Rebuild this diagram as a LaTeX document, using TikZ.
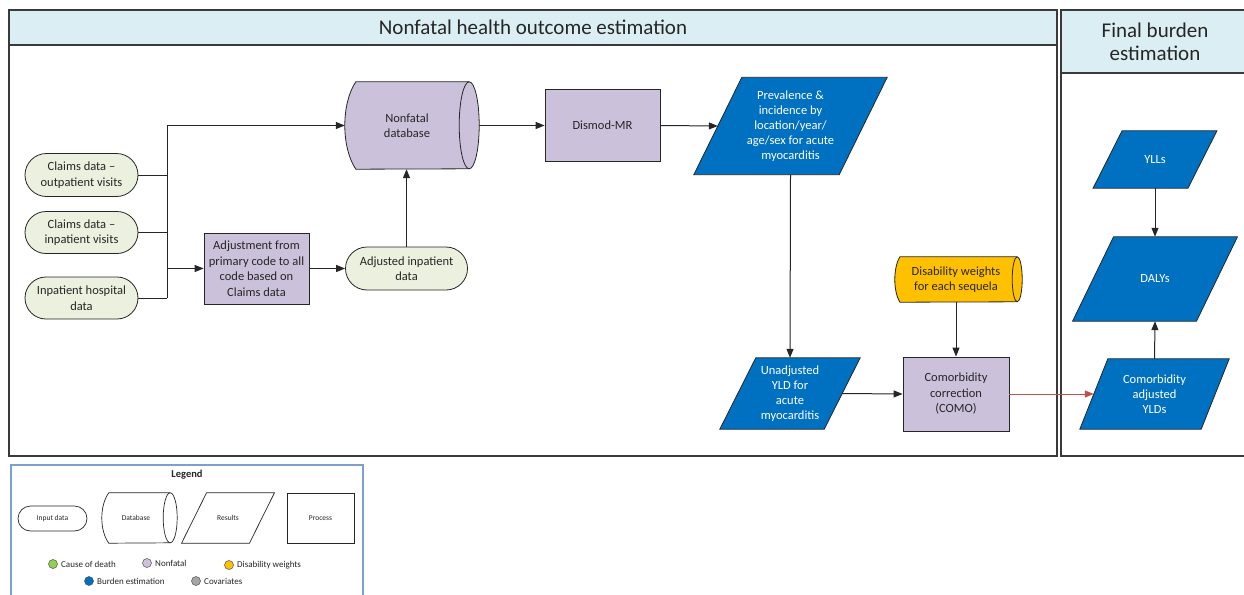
\documentclass[tikz,border=0pt]{standalone}
\usepackage{fontspec}
\setmainfont{Carlito}
\usetikzlibrary{shapes.misc,arrows.meta,backgrounds,calc}
\definecolor{hdr}{HTML}{DAEEF3}
\definecolor{grn}{HTML}{EBF1DE}
\definecolor{lav}{HTML}{CCC1DA}
\definecolor{blu}{HTML}{0070C0}
\definecolor{org}{HTML}{FFC000}
\definecolor{redc}{HTML}{C0504D}
\definecolor{linec}{HTML}{262626}
\definecolor{panelc}{HTML}{3A3A3A}
\definecolor{legb}{HTML}{7F9FCB}
\definecolor{dgreen}{HTML}{92D050}
\definecolor{dgray}{HTML}{A6A6A6}
\newcommand\drawpara[3]{%
  \begin{scope}[on background layer]
  \path[#3] ([xshift=#2]#1.north west) -- ([xshift=#2]#1.north east) -- ([xshift=-#2]#1.south east) -- ([xshift=-#2]#1.south west) -- cycle;
  \end{scope}}
\newcommand\drawcyl[5]{%
  \begin{scope}[on background layer]
  \path[#5] ([xshift=#2]#1.north west) -- (#1.north east) arc[start angle=90,end angle=-90,x radius=#3,y radius=#4] -- ([xshift=#2]#1.south west) .. controls ([xshift=-#2/3,yshift=-#4/2]#1.west) and ([xshift=-#2/3,yshift=#4/2]#1.west) .. ([xshift=#2]#1.north west) -- cycle;
  \path[#5,fill=none] (#1.north east) arc[start angle=90,end angle=270,x radius=#3,y radius=#4];
  \end{scope}}
\begin{document}
\begin{tikzpicture}[x=1pt,y=-1pt,
  txt/.style={font=\fontsize{12.5}{15.5}\selectfont, text=linec, align=center, inner sep=0pt},
  inp/.style={txt, rounded rectangle, draw=linec, line width=0.8pt, fill=grn},
  proc/.style={txt, rectangle, draw=linec, line width=0.8pt, fill=lav},
  para/.style={txt, text=white, font=\fontsize{12.5}{15}\selectfont},
  cylbox/.style={txt},
  shp/.style={draw=linec, line width=0.8pt},
  conn/.style={draw=linec, line width=1pt, -{Triangle[length=9pt,width=7pt]}},
  bus/.style={draw=linec, line width=1pt},
  panel/.style={draw=panelc, line width=1.3pt},
  leg/.style={font=\fontsize{7.5}{9}\selectfont, text=linec, inner sep=0pt},
  legd/.style={font=\fontsize{9}{11}\selectfont, text=linec, inner sep=0pt, anchor=west},
  dot/.style={circle, draw=linec!80, line width=0.5pt, minimum size=9pt, inner sep=0pt}
]
\useasboundingbox (0,0) rectangle (1244,594);
\begin{scope}[on background layer]
  \fill[white] (0,0) rectangle (1244,594);
\end{scope}

% panels
\draw[panel, fill=hdr] (9,10) rectangle (1057,45);
\draw[panel] (9,45) rectangle (1057,456);
\draw[panel, fill=hdr] (1061,10) rectangle (1250,73);
\draw[panel] (1061,73) rectangle (1250,456);
\node[txt, font=\fontsize{21}{23}\selectfont] (t1) at (533,27.5) {Nonfatal health outcome estimation};
\node[txt, font=\fontsize{21}{23}\selectfont] (t2) at (1155,41.5) {Final burden\\estimation};

% input nodes
\node[inp, minimum width=113pt, minimum height=43pt] (out) at (81.5,175) {Claims data –\\outpatient visits};
\node[inp, minimum width=113pt, minimum height=42pt] (inpv) at (81.5,232.5) {Claims data –\\inpatient visits};
\node[inp, minimum width=113pt, minimum height=42pt] (hosp) at (81.5,298) {Inpatient hospital\\data};
\node[proc, minimum width=105pt, minimum height=71pt] (adj) at (256.5,268.5) {Adjustment from\\primary code to all\\code based on\\Claims data};
\node[inp, minimum width=122pt, minimum height=43pt] (adjinp) at (406.5,268.5) {Adjusted inpatient\\data};

% database
\node[cylbox, minimum width=124pt, minimum height=87pt] (db) at (407,125.5) {Nonfatal\\database};
\drawcyl{db}{11pt}{10pt}{43.5pt}{shp, fill=lav}

\node[proc, minimum width=115pt, minimum height=72pt] (dismod) at (602.5,125.5) {Dismod-MR};

\node[para, minimum width=145pt, minimum height=97pt] (prev) at (790.5,126) {Prevalence \&\\incidence by\\location/year/\\age/sex for acute\\myocarditis};
\drawpara{prev}{24pt}{shp, fill=blu}

\node[para, minimum width=104pt, minimum height=71pt] (unadj) at (790,393.5) {Unadjusted\\YLD for\\acute\\myocarditis};
\drawpara{unadj}{18pt}{shp, fill=blu}

\node[proc, minimum width=106pt, minimum height=74pt] (como) at (956,394) {Comorbidity\\correction\\(COMO)};

\node[cylbox, minimum width=122pt, minimum height=45pt] (dis) at (956,279.5) {Disability weights\\for each sequela};
\drawcyl{dis}{5pt}{5pt}{22.5pt}{shp, fill=org}

\node[para, minimum width=121pt, minimum height=70pt] (cay) at (1154.5,394) {Comorbidity\\adjusted\\YLDs};
\drawpara{cay}{14pt}{shp, fill=blu}

\node[para, minimum width=123.5pt, minimum height=84pt] (dalys) at (1155,279) {DALYs};
\drawpara{dalys}{20.5pt}{shp, fill=blu}

\node[para, minimum width=94.5pt, minimum height=57pt] (ylls) at (1155,159.5) {YLLs};
\drawpara{ylls}{14.5pt}{shp, fill=blu}

% connectors
\coordinate (busx) at (167,0);
\draw[bus] (out.east) -- (out.east -| busx);
\draw[bus] (inpv.east) -- (inpv.east -| busx);
\draw[bus] (hosp.east) -- (hosp.east -| busx);
\draw[bus] (busx |- db.west) -- (busx |- hosp.east);
\draw[conn] (busx |- db.west) -- (db.west);
\draw[conn] (busx |- adj.west) -- (adj.west);
\draw[conn] (adj.east) -- (adjinp.west);
\draw[conn] (adjinp.north) -- (adjinp.north |- db.south);
\draw[conn] ([xshift=10pt]db.east) -- (dismod.west);
\draw[conn] (dismod.east) -- (prev.west);
\draw[conn] (prev.south) -- (unadj.north);
\draw[conn] (unadj.east) -- (como.west);
\draw[conn] (dis.south) -- (como.north);
\draw[conn, draw=redc, -{Triangle[length=9pt,width=7pt,fill=redc]}] (como.east) -- (cay.west);
\draw[conn] (cay.north) -- (dalys.south);
\draw[conn] (ylls.south) -- (dalys.north);

% legend
\draw[draw=legb, line width=1.5pt] (11,600) -- (11,465) -- (363,465) -- (363,600);
\node[txt, font=\bfseries\fontsize{10.5}{12}\selectfont] (legt) at (187,475) {Legend};
\node[leg, rounded rectangle, draw=linec, line width=0.7pt, minimum width=69pt, minimum height=25pt] (li) at (52.5,518.5) {Input data};
\node[leg, minimum width=68pt, minimum height=50pt] (ldb) at (136,518) {Database};
\drawcyl{ldb}{7pt}{7pt}{25pt}{draw=linec, line width=0.7pt, fill=white}
\node[leg, minimum width=67.5pt, minimum height=50pt] (lres) at (228,518) {Results};
\drawpara{lres}{12.5pt}{draw=linec, line width=0.7pt, fill=white}
\node[leg, draw=linec, line width=0.7pt, minimum width=67pt, minimum height=50pt] (lproc) at (320.5,518) {Process};

\node[dot, fill=dgreen] (d1) at (53,564) {};
\node[legd] (l1) at (61,564) {Cause of death};
\node[dot, fill=lav] (d2) at (147,563) {};
\node[legd] (l2) at (155,563) {Nonfatal};
\node[dot, fill=org] (d3) at (229,565) {};
\node[legd] (l3) at (237,565) {Disability weights};
\node[dot, fill=blu] (d4) at (89,581) {};
\node[legd] (l4) at (97,581) {Burden estimation};
\node[dot, fill=dgray] (d5) at (196,581) {};
\node[legd] (l5) at (204,581) {Covariates};
\end{tikzpicture}
\end{document}
